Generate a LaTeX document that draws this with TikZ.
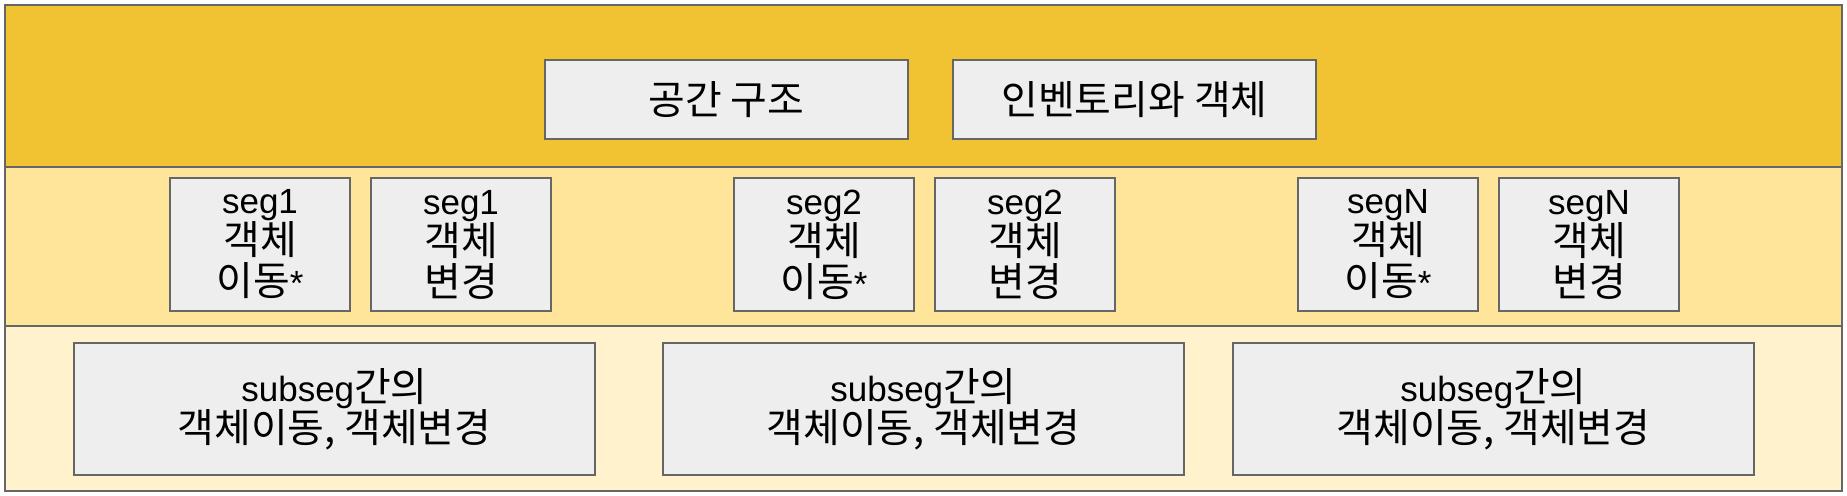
\documentclass[tikz,border=0pt]{standalone}
\usepackage{fontspec}
\setmainfont{Liberation Sans}
\newfontfamily\kr{Noto Sans CJK KR}[Scale=1.14]
\usetikzlibrary{
	positioning}
\definecolor{frame gray}{HTML}{666666}
\definecolor{box gray}{HTML}{EEEEEE}
\definecolor{gold dark}{HTML}{F1C232}
\definecolor{gold mid}{HTML}{FFE599}
\definecolor{gold light}{HTML}{FFF2CC}
\tikzset{
	layer/.style={
		draw=frame gray,
		line width=1pt
	},
	box/.style={
		rectangle,
		draw=frame gray,
		fill=box gray,
		line width=1pt,
		inner sep=0pt,
		align=center,
		font=\fontsize{17.5}{20.5}\selectfont
	},
	wide box/.style={
		box,
		minimum width=181.5pt,
		minimum height=39.5pt
	},
	seg box/.style={
		box,
		minimum width=90pt,
		minimum height=66.5pt
	},
	sub box/.style={
		box,
		minimum width=260.5pt,
		minimum height=66pt
	},
}
\begin{document}
\begin{tikzpicture}[x=0.5pt, y=-0.5pt]
	\useasboundingbox (0,0) rectangle (1847,496);
	\path[layer, fill=gold dark]  (5,5)   rectangle (1842,167);
	\path[layer, fill=gold mid]   (5,167) rectangle (1842,326);
	\path[layer, fill=gold light] (5,326) rectangle (1842,491);
%
	\node[wide box] at (726.5,99.5)      (sp)  {\kr 공간 구조};
	\node[wide box, right=21.5pt of sp]  (inv) {\kr 인벤토리와 객체};
%
	\node[seg box] at (260,244.5)        (m1) {seg1\\{\kr 객체}\\{\kr 이동}*};
	\node[seg box, right=9.5pt of m1]    (c1) {seg1\\{\kr 객체}\\{\kr 변경}};
	\node[seg box] at (824,244.5)        (m2) {seg2\\{\kr 객체}\\{\kr 이동}*};
	\node[seg box, right=9.5pt of m2]    (c2) {seg2\\{\kr 객체}\\{\kr 변경}};
	\node[seg box] at (1388,244.5)       (mN) {segN\\{\kr 객체}\\{\kr 이동}*};
	\node[seg box, right=9.5pt of mN]    (cN) {segN\\{\kr 객체}\\{\kr 변경}};
%
	\node[sub box] at (334.5,409)        (s1) {subseg{\kr 간의}\\{\kr 객체이동, 객체변경}};
	\node[sub box] at (923.5,409)        (s2) {subseg{\kr 간의}\\{\kr 객체이동, 객체변경}};
	\node[sub box] at (1493.5,409)       (s3) {subseg{\kr 간의}\\{\kr 객체이동, 객체변경}};
\end{tikzpicture}
\end{document}
